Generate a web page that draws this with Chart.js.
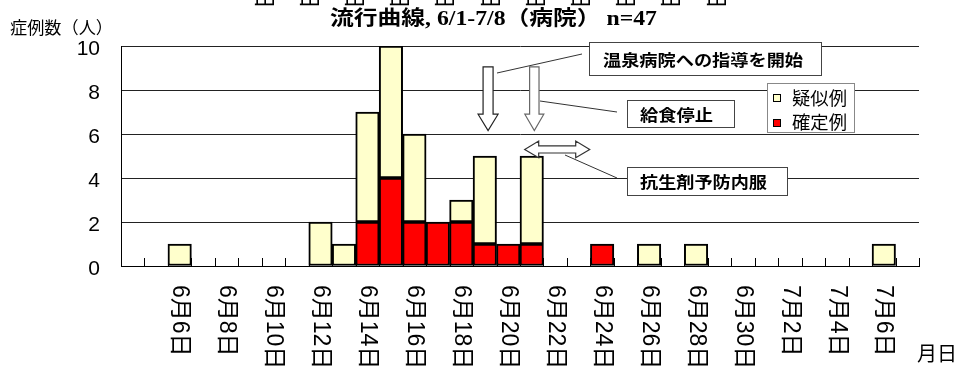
<!DOCTYPE html>
<html>
<head>
<meta charset="utf-8">
<script src="https://cdn.jsdelivr.net/npm/chart.js@4.4.0/dist/chart.umd.min.js"></script>
<style>
  html, body { margin: 0; padding: 0; background: #fff; }
  #wrap { width: 959px; height: 372px; position: relative; }
</style>
</head>
<body>
<div id="wrap"><canvas id="c" width="959" height="372"></canvas></div>
<script>
// Daily categories, 6/4 .. 7/7
const categories = [
  '6月4日','6月5日','6月6日','6月7日','6月8日','6月9日','6月10日','6月11日',
  '6月12日','6月13日','6月14日','6月15日','6月16日','6月17日','6月18日','6月19日',
  '6月20日','6月21日','6月22日','6月23日','6月24日','6月25日','6月26日','6月27日',
  '6月28日','6月29日','6月30日','7月1日','7月2日','7月3日','7月4日','7月5日',
  '7月6日','7月7日'
];
// Confirmed cases per day
const confirmed = [
  0,0,0,0,0,0,0,0,
  0,0,2,4,2,2,2,1,
  1,1,0,0,1,0,0,0,
  0,0,0,0,0,0,0,0,
  0,0
];
// Suspected cases per day
const suspected = [
  0,0,1,0,0,0,0,0,
  2,1,5,6,4,0,1,4,
  0,4,0,0,0,0,1,0,
  1,0,0,0,0,0,0,0,
  1,0
];
// Labelled dates on the x axis (every other day)
const tickLabels = [
  '6月6日','6月8日','6月10日','6月12日','6月14日','6月16日','6月18日','6月20日',
  '6月22日','6月24日','6月26日','6月28日','6月30日','7月2日','7月4日','7月6日'
];
const seriesNames = { suspected: '疑似例', confirmed: '確定例' };
const yRange = { min: 0, max: 10, step: 2 };

const SANS = "'Liberation Sans', Arial, 'Noto Sans CJK JP', sans-serif";
const CJK = "'Noto Sans CJK JP', 'Liberation Sans', sans-serif";
const SERIF = "'Liberation Serif', 'Times New Roman', 'Noto Sans CJK JP', serif";
const RED = '#FF0000';
const CREAM = '#FFFFCC';

// Draw text stretched horizontally to a given width
function fitText(ctx, text, x, y, width, font, align) {
  ctx.save();
  ctx.font = font;
  const w = ctx.measureText(text).width;
  const k = width / w;
  ctx.translate(x, y);
  ctx.scale(k, 1);
  ctx.textAlign = align || 'left';
  ctx.textBaseline = 'middle';
  ctx.fillStyle = '#000';
  ctx.fillText(text, 0, 0);
  ctx.restore();
}

function downArrow(ctx, cx, yTop, yNeck, yTip, halfShaft, halfHead, stroke) {
  ctx.save();
  ctx.beginPath();
  ctx.moveTo(cx - halfShaft, yTop);
  ctx.lineTo(cx + halfShaft, yTop);
  ctx.lineTo(cx + halfShaft, yNeck);
  ctx.lineTo(cx + halfHead, yNeck);
  ctx.lineTo(cx, yTip);
  ctx.lineTo(cx - halfHead, yNeck);
  ctx.lineTo(cx - halfShaft, yNeck);
  ctx.closePath();
  ctx.fillStyle = '#fff';
  ctx.fill();
  ctx.strokeStyle = stroke;
  ctx.lineWidth = 1.2;
  ctx.stroke();
  ctx.restore();
}

function doubleArrow(ctx, x1, x2, cy, halfShaft, halfHead, headLen, stroke) {
  ctx.save();
  ctx.beginPath();
  ctx.moveTo(x1, cy);
  ctx.lineTo(x1 + headLen, cy - halfHead);
  ctx.lineTo(x1 + headLen, cy - halfShaft);
  ctx.lineTo(x2 - headLen, cy - halfShaft);
  ctx.lineTo(x2 - headLen, cy - halfHead);
  ctx.lineTo(x2, cy);
  ctx.lineTo(x2 - headLen, cy + halfHead);
  ctx.lineTo(x2 - headLen, cy + halfShaft);
  ctx.lineTo(x1 + headLen, cy + halfShaft);
  ctx.lineTo(x1 + headLen, cy + halfHead);
  ctx.closePath();
  ctx.fillStyle = '#fff';
  ctx.fill();
  ctx.strokeStyle = stroke;
  ctx.lineWidth = 1.2;
  ctx.stroke();
  ctx.restore();
}

function line(ctx, x1, y1, x2, y2) {
  ctx.save();
  ctx.beginPath();
  ctx.moveTo(x1, y1);
  ctx.lineTo(x2, y2);
  ctx.strokeStyle = '#333';
  ctx.lineWidth = 1;
  ctx.stroke();
  ctx.restore();
}

function labelBox(ctx, x, y, w, h, text, tx, tw) {
  ctx.save();
  ctx.fillStyle = '#fff';
  ctx.fillRect(x, y, w, h);
  ctx.strokeStyle = '#444';
  ctx.lineWidth = 1;
  ctx.strokeRect(x + 0.5, y + 0.5, w, h);
  ctx.restore();
  fitText(ctx, text, tx, y + h / 2 + 1, tw, "bold 16px " + CJK, 'left');
}

const decor = {
  id: 'decor',
  beforeDatasetsDraw(chart) {
    // inward tick marks at category boundaries on the x axis
    const { ctx, scales: { x }, chartArea } = chart;
    const w = x.getPixelForValue(1) - x.getPixelForValue(0);
    ctx.save();
    ctx.strokeStyle = '#000';
    ctx.lineWidth = 1;
    for (let i = 1; i <= categories.length; i++) {
      const px = Math.round(x.getPixelForValue(i - 1) + w / 2) + 0.5;
      ctx.beginPath();
      ctx.moveTo(px, chartArea.bottom);
      ctx.lineTo(px, chartArea.bottom - 8);
      ctx.stroke();
    }
    ctx.restore();
  },
  afterDraw(chart) {
    const { ctx, scales: { x, y }, chartArea } = chart;

    // ends of a date row running off the top edge
    ctx.save();
    ctx.font = '22px ' + CJK;
    ctx.fillStyle = '#000';
    ctx.textAlign = 'left';
    ctx.textBaseline = 'middle';
    for (let k = 0; k < 11; k++) {
      ctx.save();
      ctx.translate(265 + k * 45.2, -13);
      ctx.rotate(Math.PI / 2);
      ctx.fillText('日', 0, 0);
      ctx.restore();
    }
    ctx.restore();

    // title
    fitText(ctx, '流行曲線, 6/1-7/8（病院） n=47', 493.5, 20, 327, 'bold 20px ' + SERIF, 'center');

    // y-axis title
    fitText(ctx, '症例数（人）', 10, 28, 103, '17px ' + CJK, 'left');

    // rotated date labels
    ctx.save();
    ctx.font = '23px ' + SANS;
    ctx.fillStyle = '#000';
    ctx.textAlign = 'left';
    ctx.textBaseline = 'middle';
    tickLabels.forEach(lbl => {
      const idx = categories.indexOf(lbl);
      const px = x.getPixelForValue(idx);
      ctx.save();
      ctx.translate(px, chartArea.bottom + 19);
      ctx.rotate(Math.PI / 2);
      ctx.fillText(lbl, 0, 0);
      ctx.restore();
    });
    ctx.restore();

    // x-axis title
    fitText(ctx, '月日', 917, 353, 40, '20px ' + CJK, 'left');

    // annotation arrows
    const a1 = x.getPixelForValue(15.14);
    const a2 = x.getPixelForValue(17.11);
    downArrow(ctx, a1, y.getPixelForValue(9.05), y.getPixelForValue(6.9), y.getPixelForValue(6.16), 5, 10, '#222');
    downArrow(ctx, a2, y.getPixelForValue(9.05), y.getPixelForValue(6.9), y.getPixelForValue(6.16), 4.7, 9.5, '#666');
    doubleArrow(ctx, x.getPixelForValue(16.7), x.getPixelForValue(19.47), y.getPixelForValue(5.3), 3.6, 8.3, 14, '#333');

    // leader lines
    line(ctx, 497, 73, 582, 54);
    line(ctx, 540, 101, 617, 112);
    line(ctx, 565, 155, 617, 178);

    // annotation boxes
    labelBox(ctx, 589, 42, 232, 33, '温泉病院への指導を開始', 603, 200);
    labelBox(ctx, 627, 100, 107, 27, '給食停止', 640, 73);
    labelBox(ctx, 627, 167, 160, 28, '抗生剤予防内服', 640, 127);

    // legend
    ctx.save();
    ctx.fillStyle = '#fff';
    ctx.fillRect(767, 83, 87, 49);
    ctx.strokeStyle = '#888';
    ctx.lineWidth = 1;
    ctx.strokeRect(767.5, 83.5, 87, 49);
    ctx.fillStyle = CREAM;
    ctx.fillRect(773, 94, 8, 8);
    ctx.strokeStyle = '#000';
    ctx.strokeRect(773.5, 94.5, 7, 7);
    ctx.fillStyle = RED;
    ctx.fillRect(773, 119, 8, 8);
    ctx.strokeRect(773.5, 119.5, 7, 7);
    ctx.restore();
    fitText(ctx, seriesNames.suspected, 792, 98, 55, '18px ' + CJK, 'left');
    fitText(ctx, seriesNames.confirmed, 792, 122, 55, '18px ' + CJK, 'left');
  }
};

const barStyle = {
  borderColor: '#000',
  borderWidth: 2,
  borderSkipped: false,
  barPercentage: 1,
  categoryPercentage: 1,
  stack: 'cases'
};

new Chart(document.getElementById('c'), {
  type: 'bar',
  data: {
    labels: categories,
    datasets: [
      Object.assign({ label: seriesNames.confirmed, data: confirmed.map(v => v || null), backgroundColor: RED }, barStyle),
      Object.assign({ label: seriesNames.suspected, data: suspected.map(v => v || null), backgroundColor: CREAM }, barStyle)
    ]
  },
  options: {
    responsive: false,
    animation: false,
    layout: { padding: { top: 46, right: 40, left: 0, bottom: 0 } },
    plugins: {
      legend: { display: false },
      title: { display: false },
      tooltip: { enabled: false }
    },
    scales: {
      x: {
        stacked: true,
        grid: { display: false },
        border: { display: true, color: '#000', width: 1 },
        ticks: { display: false },
        afterFit(s) { s.height = 106; }
      },
      y: {
        stacked: true,
        min: yRange.min,
        max: yRange.max,
        ticks: {
          stepSize: yRange.step,
          color: '#000',
          font: { family: SANS, size: 21 },
          padding: 21,
          labelOffset: 3
        },
        grid: { color: '#222', lineWidth: 1, drawTicks: false },
        border: { display: true, color: '#000', width: 1 },
        afterFit(s) { s.width = 121; }
      }
    }
  },
  plugins: [decor]
});
</script>
</body>
</html>
